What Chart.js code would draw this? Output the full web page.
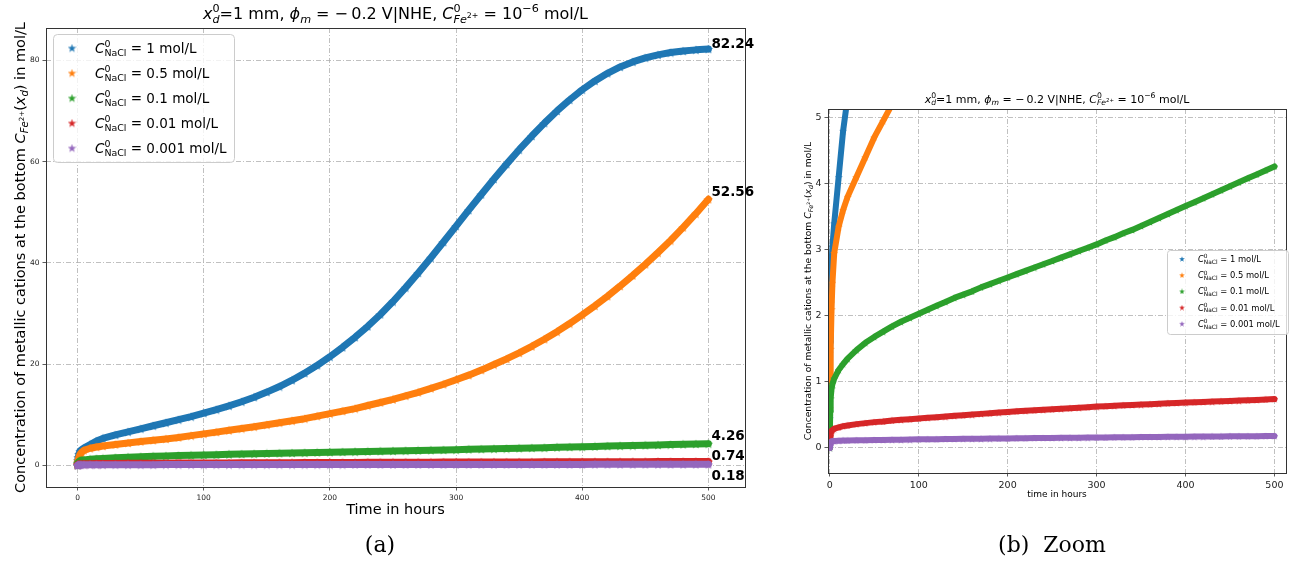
<!DOCTYPE html>
<html>
<head>
<meta charset="utf-8">
<script src="https://cdn.jsdelivr.net/npm/chart.js@4.4.1/dist/chart.umd.min.js"></script>
<style>
  html, body { margin: 0; padding: 0; background: #fff; }
  #wrap { position: relative; width: 1296px; height: 563px; overflow: hidden; }
  canvas { position: absolute; left: 0; top: 0; }
  .caption { position: absolute; font-family: "DejaVu Serif", "Liberation Serif", serif; font-size: 22px; color: #000; transform: translateX(-50%); white-space: pre; }
</style>
</head>
<body>
<div id="wrap">
  <canvas id="mainChart" width="1296" height="563"></canvas>
  <canvas id="zoomChart" width="1296" height="563"></canvas>
  <div class="caption" style="left:380px; top:532px">(a)</div>
  <div class="caption" style="left:1052px; top:532px">(b)  Zoom</div>
</div>
<script>
// Time in hours and concentration at the bottom (mol/L)
const hours = [0, 0.2, 0.5, 1, 2, 3, 5, 10, 15, 20, 30, 40, 50, 60, 70, 80, 90, 100,
    110, 120, 130, 140, 150, 160, 170, 180, 190, 200, 210, 220, 230, 240, 250, 260, 270, 280, 290, 300,
    310, 320, 330, 340, 350, 360, 370, 380, 390, 400, 410, 420, 430, 440, 450, 460, 470, 480, 490, 500];

const naclLabels = ['1', '0.5', '0.1', '0.01', '0.001'];

const concNaCl1 = [0.45, 1.0, 1.6, 2.2, 2.8, 3.05, 3.4, 4.1, 4.8, 5.3, 6.0, 6.6, 7.2, 7.8, 8.4, 9.0, 9.6, 10.3,
    11.0, 11.75, 12.55, 13.45, 14.45, 15.55, 16.8, 18.2, 19.75, 21.45, 23.3, 25.3, 27.45, 29.8, 32.35, 35.1, 38.0, 41.0, 44.1, 47.25,
    50.4, 53.5, 56.55, 59.5, 62.35, 65.05, 67.6, 70.0, 72.2, 74.2, 75.95, 77.45, 78.7, 79.7, 80.5, 81.1, 81.55, 81.85, 82.08, 82.24];
const concNaCl05 = [0.2, 0.6, 1.0, 1.5, 2.1, 2.5, 2.95, 3.35, 3.6, 3.8, 4.1, 4.4, 4.7, 4.95, 5.2, 5.5, 5.85, 6.2,
    6.55, 6.9, 7.25, 7.6, 8.0, 8.4, 8.8, 9.2, 9.7, 10.2, 10.7, 11.2, 11.8, 12.4, 13.0, 13.7, 14.4, 15.2, 16.0, 16.9,
    17.8, 18.8, 19.9, 21.0, 22.2, 23.5, 24.9, 26.4, 28.0, 29.7, 31.5, 33.4, 35.4, 37.5, 39.7, 42.0, 44.4, 47.0, 49.7, 52.56];
const concNaCl01 = [0.0, 0.3, 0.55, 0.75, 0.9, 0.97, 1.05, 1.18, 1.27, 1.35, 1.48, 1.59, 1.68, 1.76, 1.84, 1.91, 1.97, 2.03,
    2.09, 2.15, 2.21, 2.27, 2.32, 2.37, 2.43, 2.48, 2.53, 2.58, 2.63, 2.68, 2.73, 2.78, 2.83, 2.88, 2.93, 2.98, 3.03, 3.08,
    3.14, 3.19, 3.25, 3.30, 3.36, 3.42, 3.48, 3.54, 3.60, 3.66, 3.72, 3.78, 3.84, 3.90, 3.96, 4.02, 4.08, 4.14, 4.20, 4.26];
const concNaCl001 = [0.1, 0.15, 0.18, 0.22, 0.26, 0.27, 0.29, 0.31, 0.33, 0.34, 0.36, 0.375, 0.39, 0.40, 0.415, 0.425, 0.435, 0.445,
    0.455, 0.465, 0.475, 0.485, 0.495, 0.505, 0.515, 0.525, 0.535, 0.545, 0.553, 0.561, 0.569, 0.577, 0.585, 0.593, 0.601, 0.609, 0.617, 0.625,
    0.632, 0.638, 0.644, 0.650, 0.656, 0.662, 0.668, 0.674, 0.680, 0.686, 0.691, 0.696, 0.701, 0.706, 0.711, 0.716, 0.721, 0.726, 0.733, 0.74];
const concNaCl0001 = [0.0, 0.03, 0.05, 0.08, 0.1, 0.103, 0.105, 0.11, 0.112, 0.113, 0.115, 0.117, 0.119, 0.121, 0.123, 0.125, 0.127, 0.129,
    0.131, 0.132, 0.134, 0.135, 0.137, 0.138, 0.140, 0.141, 0.143, 0.144, 0.146, 0.147, 0.148, 0.150, 0.151, 0.152, 0.154, 0.155, 0.156, 0.158,
    0.159, 0.160, 0.161, 0.163, 0.164, 0.165, 0.166, 0.168, 0.169, 0.170, 0.171, 0.172, 0.173, 0.174, 0.175, 0.176, 0.177, 0.178, 0.179, 0.18];

const mainXTicks = [0, 100, 200, 300, 400, 500];
const mainYTicks = [0, 20, 40, 60, 80];
const zoomXTicks = [0, 100, 200, 300, 400, 500];
const zoomYTicks = [0, 1, 2, 3, 4, 5];

const series = [concNaCl1, concNaCl05, concNaCl01, concNaCl001, concNaCl0001];
const COLORS = ['#1f77b4', '#ff7f0e', '#2ca02c', '#d62728', '#9467bd'];
const FONT = '"DejaVu Sans", sans-serif';

// Little rich-text helper for the mathtext bits (sub/superscripts)
const N = s => ({ s });
const I = s => ({ s, it: true });
const SUP = (s, keep) => ({ s, sc: 0.7, dy: -0.42, keep });
const SUB = (s, it) => ({ s, it, sc: 0.7, dy: 0.22 });
const SUBSUP = s => ({ s, sc: 0.49, dy: -0.08 });

const layoutRich = (ctx, parts, size) => {
    let x = 0, held = 0;
    const placed = parts.map(p => {
        ctx.font = `${p.it ? 'italic ' : ''}${size * (p.sc || 1)}px ${FONT}`;
        const w = ctx.measureText(p.s).width;
        const item = { p, x, font: ctx.font };
        if (p.keep) held = Math.max(held, w);
        else { x += Math.max(w, held); held = 0; }
        return item;
    });
    return { placed, width: x + held };
};

const drawRich = (ctx, parts, x, y, size, align) => {
    const { placed, width } = layoutRich(ctx, parts, size);
    const x0 = align === 'center' ? x - width / 2 : x;
    ctx.textAlign = 'left';
    ctx.textBaseline = 'alphabetic';
    placed.forEach(it => {
        ctx.font = it.font;
        ctx.fillText(it.p.s, x0 + it.x, y + (it.p.dy || 0) * size);
    });
};

const titleParts = [I('x'), SUP('0', true), SUB('d', true), N('=1 mm, '), I('ϕ'), SUB('m', true),
    N(' = \u2212\u20090.2 V|NHE, '), I('C'), SUP('0', true), SUB('Fe', true), SUBSUP('2+'), N(' = 10'), SUP('\u22126'), N(' mol/L')];
const yLabelParts = [N('Concentration of metallic cations at the bottom '), I('C'), SUB('Fe', true), SUBSUP('2+'),
    N('('), I('x'), SUB('d', true), N(') in mol/L')];
const legendParts = lab => [I('C'), SUP('0', true), SUB('NaCl'), N(` = ${lab} mol/L`)];

// Filled five-point star, like matplotlib's '*' marker
const makeStar = (color, size) => {
    const c = document.createElement('canvas');
    c.width = size; c.height = size;
    const g = c.getContext('2d');
    const r = size / 2, ri = r * 0.4;
    g.beginPath();
    for (let k = 0; k < 10; k++) {
        const rad = k % 2 ? ri : r;
        const a = -Math.PI / 2 + k * Math.PI / 5;
        g.lineTo(r + rad * Math.cos(a), r + rad * Math.sin(a) + size * 0.05);
    }
    g.closePath();
    g.fillStyle = color;
    g.fill();
    return c;
};

const buildDatasets = (starSize, lineWidth) => series.map((vals, i) => ({
    label: naclLabels[i],
    data: hours.map((h, j) => ({ x: h, y: vals[j] })),
    showLine: true,
    borderColor: COLORS[i],
    backgroundColor: COLORS[i],
    borderWidth: lineWidth,
    borderCapStyle: 'round',
    borderJoinStyle: 'round',
    pointStyle: makeStar(COLORS[i], starSize),
    order: series.length - i,
    clip: 0
}));

const axisOpts = (min, max, ticks, fontSize, size, isX) => ({
    type: 'linear',
    min, max,
    afterBuildTicks: s => { s.ticks = ticks.map(v => ({ value: v })); },
    afterFit: s => { if (isX) s.height = size; else s.width = size; },
    grid: { color: '#b0b0b0', lineWidth: 0.8, tickLength: 3.5, tickColor: '#333', tickWidth: 0.8, tickBorderDash: [] },
    border: { display: false, dash: [5, 2, 1, 2] },
    ticks: { font: { family: FONT, size: fontSize }, color: '#222', padding: 3, maxRotation: 0, autoSkip: false }
});

const drawLegend = (ctx, lg) => {
    ctx.beginPath();
    if (ctx.roundRect) ctx.roundRect(lg.x + 0.5, lg.y + 0.5, lg.w, lg.h, lg.radius);
    else ctx.rect(lg.x + 0.5, lg.y + 0.5, lg.w, lg.h);
    ctx.fillStyle = 'rgba(255,255,255,0.8)';
    ctx.fill();
    ctx.strokeStyle = '#cccccc';
    ctx.lineWidth = 1;
    ctx.stroke();
    naclLabels.forEach((lab, i) => {
        const cy = lg.y + lg.firstRow + i * lg.rowGap;
        const star = makeStar(COLORS[i], lg.star);
        ctx.drawImage(star, lg.starX - lg.star / 2, cy - lg.star / 2);
        ctx.fillStyle = '#000';
        drawRich(ctx, legendParts(lab), lg.textX, cy + lg.size * 0.35, lg.size, 'left');
    });
};

const decorPlugin = cfg => ({
    id: 'decor',
    afterDraw(chart) {
        const { ctx, chartArea: a } = chart;
        const cx = (a.left + a.right) / 2;
        ctx.save();
        ctx.setLineDash([]);
        ctx.strokeStyle = '#333';
        ctx.lineWidth = 1;
        ctx.strokeRect(Math.round(a.left) + 0.5, Math.round(a.top) + 0.5, Math.round(a.right - a.left), Math.round(a.bottom - a.top));

        ctx.fillStyle = '#000';
        drawRich(ctx, titleParts, cx, cfg.titleY, cfg.titleSize, 'center');
        drawRich(ctx, [N(cfg.xLabel)], cx, cfg.xLabelY, cfg.labelSize, 'center');
        ctx.save();
        ctx.translate(cfg.yLabelX, (a.top + a.bottom) / 2);
        ctx.rotate(-Math.PI / 2);
        drawRich(ctx, yLabelParts, 0, 0, cfg.yLabelSize, 'center');
        ctx.restore();

        drawLegend(ctx, cfg.legend);

        if (cfg.endOffsets) {
            ctx.font = `bold ${cfg.endSize}px ${FONT}`;
            ctx.textAlign = 'left';
            ctx.textBaseline = 'middle';
            ctx.fillStyle = '#000';
            series.forEach((vals, i) => {
                const pts = chart.getDatasetMeta(i).data;
                const last = pts[pts.length - 1];
                ctx.fillText(vals[vals.length - 1].toFixed(2), last.x + 3, last.y + cfg.endOffsets[i]);
            });
        }
        ctx.restore();
    }
});

const makeChart = (canvasId, cfg) => new Chart(document.getElementById(canvasId), {
    type: 'scatter',
    data: { datasets: buildDatasets(cfg.starSize, cfg.lineWidth) },
    options: {
        responsive: false,
        animation: false,
        events: [],
        layout: { padding: cfg.padding },
        plugins: { legend: { display: false }, tooltip: { enabled: false } },
        scales: {
            x: axisOpts(cfg.xRange[0], cfg.xRange[1], cfg.xTicks, cfg.tickSize, 20, true),
            y: axisOpts(cfg.yRange[0], cfg.yRange[1], cfg.yTicks, cfg.tickSize, cfg.yAxisWidth, false)
        }
    },
    plugins: [decorPlugin(cfg)]
});

// (a) full view
makeChart('mainChart', {
    padding: { left: 0, top: 28, right: 551, bottom: 56 },
    yAxisWidth: 46,
    xRange: [-25, 529], yRange: [-4.3, 86.4],
    xTicks: mainXTicks, yTicks: mainYTicks,
    tickSize: 7.5, starSize: 10, lineWidth: 7,
    titleY: 19, titleSize: 16,
    xLabel: 'Time in hours', xLabelY: 514, yLabelX: 25, labelSize: 14.5, yLabelSize: 14.5,
    legend: { x: 53, y: 34, w: 181, h: 128, radius: 4, starX: 72, textX: 95, firstRow: 14, rowGap: 25, size: 13.5, star: 9 },
    endOffsets: [-5, -7, -7, -5, 12], endSize: 13.5
});

// (b) zoom on the low concentrations
makeChart('zoomChart', {
    padding: { left: 775, top: 109, right: 5, bottom: 70 },
    yAxisWidth: 53,
    xRange: [-2, 513], yRange: [-0.38, 5.13],
    xTicks: zoomXTicks, yTicks: zoomYTicks,
    tickSize: 9.5, starSize: 8, lineWidth: 6,
    titleY: 103, titleSize: 11,
    xLabel: 'time in hours', xLabelY: 497, yLabelX: 811, labelSize: 9, yLabelSize: 9.2,
    legend: { x: 1167, y: 250, w: 121, h: 84, radius: 3, starX: 1182, textX: 1198, firstRow: 9, rowGap: 16.2, size: 8.4, star: 6 }
});
</script>
</body>
</html>
